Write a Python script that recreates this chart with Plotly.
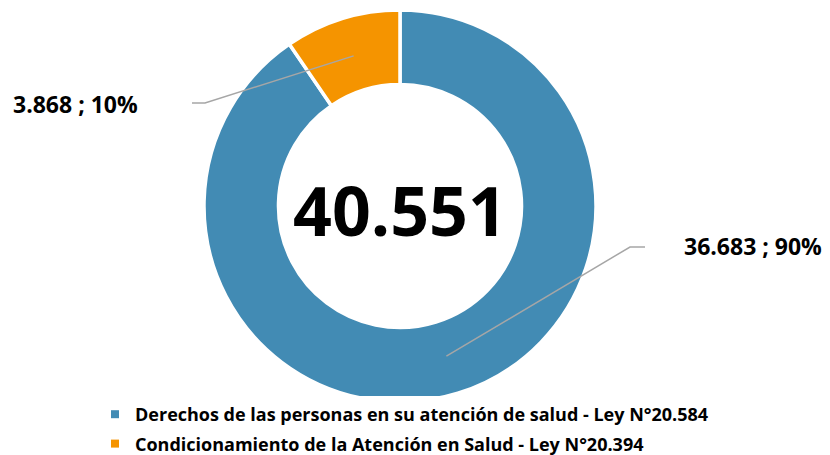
import math
import plotly.graph_objects as go

# Data
categories = [
    "Derechos de las personas en su atención de salud - Ley N°20.584",
    "Condicionamiento de la Atención en Salud - Ley N°20.394",
]
values = [36683, 3868]
colors = ["#428bb4", "#f59400"]

# the page body adds an 8px margin, so the figure is 8px smaller
W, H = 822, 447
total = sum(values)
FONT = "Open Sans"


def fmt(n):
    return f"{n:,}".replace(",", ".")


def px_x(x):
    return x / W


def px_y(y):
    return min(1, max(0, 1 - y / H))


# donut geometry (figure pixels)
cx, cy, r_out, hole = 392, 198, 194, 0.62
r_mid = r_out * (1 + hole) / 2
pad = 2

fig = go.Figure(go.Pie(
    labels=categories,
    values=values,
    hole=hole,
    sort=False,
    direction="clockwise",
    rotation=0,
    marker=dict(colors=colors, line=dict(color="white", width=3.5)),
    textinfo="none",
    hoverinfo="label+value+percent",
    showlegend=False,
    domain=dict(x=[px_x(cx - r_out - pad), px_x(cx + r_out + pad)],
                y=[px_y(cy + r_out + pad), px_y(cy - r_out - pad)]),
))

# legend entries with small square markers
for i, (name, col) in enumerate(zip(categories, colors)):
    fig.add_trace(go.Scatter(
        x=[None], y=[None], mode="markers", name=f"<b>{name}</b>",
        marker=dict(symbol="square", size=8, color=col),
        legendgroup=f"g{i}", showlegend=True,
    ))

# outside labels with leader lines, anchored at slice midpoints
elbows = [(622, 239, 637), (197, 95, 184)]
label_pos = [(816, 238), (132, 96)]
shapes, annotations = [], []
start = 0
for v, (ex, ey, end_x), (lx, ly) in zip(values, elbows, label_pos):
    mid = (start + v / 2) / total * 2 * math.pi
    start += v
    sx = cx + r_mid * math.sin(mid)
    sy = cy - r_mid * math.cos(mid)
    path = f"M {px_x(sx)},{px_y(sy)} L {px_x(ex)},{px_y(ey)} L {px_x(end_x)},{px_y(ey)}"
    shapes.append(dict(type="path", xref="paper", yref="paper", path=path,
                       line=dict(color="#a6a6a6", width=1.5)))
    pct = round(v / total * 100)
    annotations.append(dict(
        x=px_x(lx), y=px_y(ly), xref="paper", yref="paper",
        text=f"<b>{fmt(v)} ; {pct}%</b>", showarrow=False,
        xanchor="right", yanchor="middle",
        font=dict(size=23, color="black", family=FONT),
    ))

annotations.append(dict(
    x=px_x(cx), y=px_y(201), xref="paper", yref="paper",
    text=f"<b>{fmt(total)}</b>", showarrow=False,
    xanchor="center", yanchor="middle",
    font=dict(size=68, color="black", family=FONT),
))

fig.update_layout(
    width=W, height=H,
    margin=dict(l=0, r=0, t=0, b=0, autoexpand=False),
    paper_bgcolor="white",
    plot_bgcolor="white",
    xaxis=dict(visible=False),
    yaxis=dict(visible=False),
    shapes=shapes,
    annotations=annotations,
    showlegend=True,
    legend=dict(
        x=px_x(87), y=px_y(388), xanchor="left", yanchor="top",
        font=dict(size=18, color="black", family=FONT),
        itemwidth=30, tracegroupgap=3,
    ),
)

fig.write_html("out.html")
